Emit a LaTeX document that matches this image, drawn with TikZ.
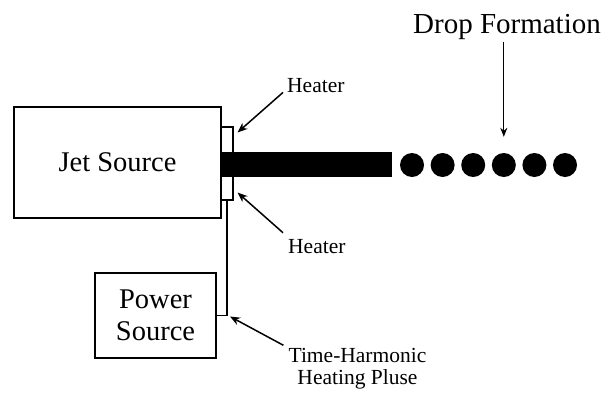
\documentclass[tikz,border=0pt]{standalone}
\usepackage{fontspec}
\setmainfont{Liberation Serif}
\newfontfamily\timesfont{Liberation Serif}
\usetikzlibrary{arrows.meta, positioning}

\begin{document}
\begin{tikzpicture}[
  x=1pt, y=-1pt,
  box/.style={draw, line width=1.4pt, align=center, inner sep=0pt,
              font=\timesfont\fontsize{28.5}{32}\selectfont},
  heatbox/.style={draw, line width=1.1pt, fill=white, minimum width=12pt,
                  minimum height=73pt, inner sep=0pt},
  drop/.style={circle, fill=black, minimum size=24pt, inner sep=0pt},
  lbl/.style={inner sep=0pt, align=center, font=\timesfont\fontsize{21.5}{22}\selectfont},
  arr/.style={-{Stealth[length=10pt,width=8pt]}, line width=1.5pt}
]
  \useasboundingbox (0,0) rectangle (615,394);

  % Jet source and heater
  \node[box, minimum width=207pt, minimum height=111pt] (jet) at (117.5,162.5) {Jet Source};
  \node[heatbox] (heat) at (227,163.5) {};
  \node[fill=black, minimum width=171pt, minimum height=25pt, inner sep=0pt] (stream) at (306.5,164.5) {};

  % Drops
  \foreach \i in {0,...,5}
    \node[drop] (d\i) at (412+30.6*\i,165) {};

  \node[lbl, font=\timesfont\fontsize{29}{32}\selectfont, anchor=base] (form) at (507,33) {Drop Formation};
  \draw[-{Stealth[length=9pt,width=7pt]}, line width=1.2pt, shorten <=3pt]
    (form.south -| d3) -- ([yshift=16pt]d3.north);

  % Heater labels
  \node[lbl, anchor=base west] (htop) at (287,92) {Heater};
  \node[lbl, anchor=base west] (hbot) at (288,253) {Heater};
  \draw[arr] ([shift={(-4,0)}]htop.south west) -- ([shift={(4,6)}]heat.north east);
  \draw[arr] ([shift={(-5,-6)}]hbot.north west) -- ([shift={(4,-8)}]heat.south east);

  % Power source
  \node[box, minimum width=121pt, minimum height=85pt] (power) at (155.5,315.5) {Power\\Source};
  \coordinate (bend) at (heat.south |- power.east);
  \draw[line width=1.3pt] (heat.south) -- (bend) -- (power.east);

  \node[lbl, anchor=north] (pulse) at (357.5,348.3) {Time-Harmonic\\Heating Pluse};
  \draw[arr] ([shift={(-5,-3)}]pulse.north west) -- ([shift={(3,1)}]bend);
\end{tikzpicture}
\end{document}
